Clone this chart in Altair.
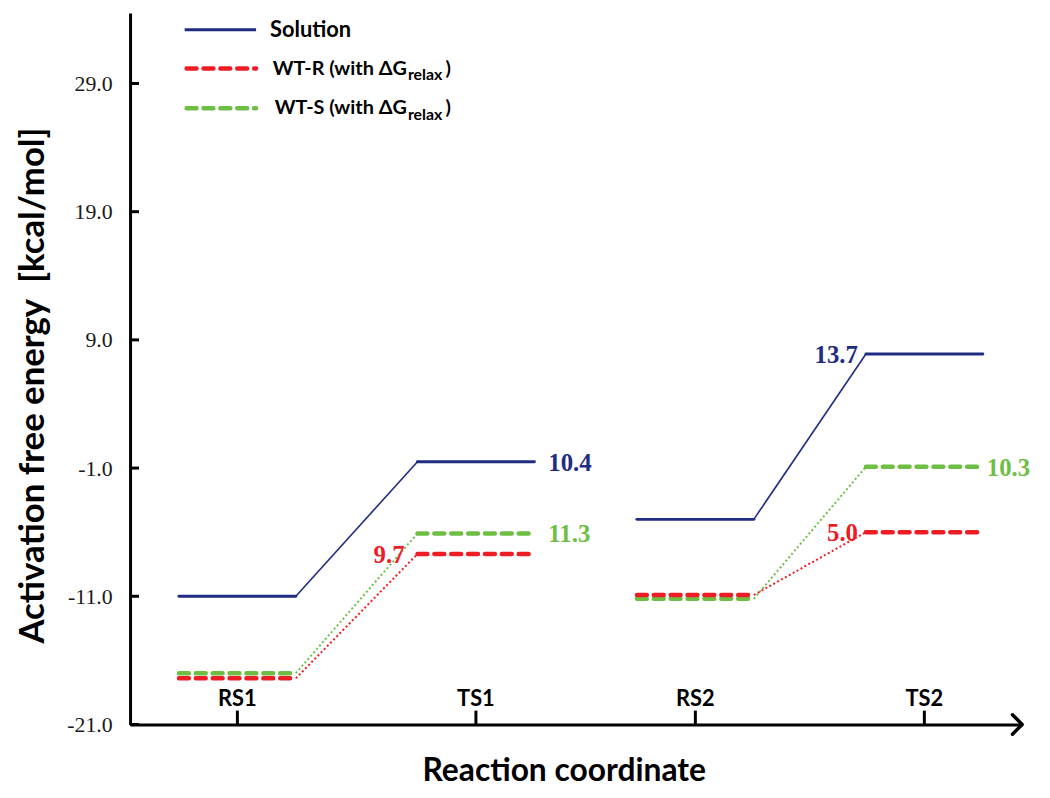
import altair as alt
import pandas as pd

# ---------------- data ----------------
stages = ["RS1", "TS1", "RS2", "TS2"]
stage_pos = [1.0, 2.0, 2.92, 3.88]          # position along the reaction coordinate
solution = [-11.0, -0.5, -5.0, 7.9]
wt_r = [-17.4, -7.7, -10.9, -6.0]
wt_s = [-17.0, -6.1, -11.2, -0.9]

# barrier labels (at TS1, TS2)
solution_barriers = ["10.4", "13.7"]
wt_r_barriers = ["9.7", "5.0"]
wt_s_barriers = ["11.3", "10.3"]
# side of the TS level where each label sits
solution_sides = ["right", "left"]
wt_r_sides = ["left", "left"]
wt_s_sides = ["right", "right"]

y_ticks = [-21, -11, -1, 9, 19, 29]
series_names = ["Solution", "WT-R", "WT-S"]

# ---------------- styling ----------------
BLUE = "#1f2c82"
RED = "#ee1c25"
GREEN = "#6fbe44"
HALF = 0.245
W, H = 899, 717
Y_MIN, Y_MAX = -21, 34.5
X_MIN, X_MAX = 0.55, 4.29
LABEL_DX = {("right", 1): 14, ("right", 3): 4, ("left", 1): -13, ("left", 3): -8}

xscale = alt.Scale(domain=[X_MIN, X_MAX], nice=False, zero=False)
yscale = alt.Scale(domain=[Y_MIN, Y_MAX], nice=False, zero=False)

xaxis = alt.Axis(title="Reaction coordinate", labels=False, ticks=False, grid=False,
                 domainColor="black", domainWidth=3,
                 titleFont="Lato", titleFontSize=32, titleFontWeight="bold",
                 titleColor="black", titleX=437, titleY=56, titleAlign="center",
                 titleBaseline="alphabetic")
yaxis = alt.Axis(title="Activation free energy\u00a0\u00a0[kcal/mol]", values=y_ticks, format=".1f",
                 labelExpr="replace(datum.label, '\u2212', '-')",
                 ticks=False, tickSize=0, grid=False, domainColor="black", domainWidth=3,
                 labelFont="Liberation Serif", labelFontSize=22, labelColor="#1a1a1a",
                 labelPadding=18,
                 titleFont="Lato", titleFontSize=35, titleFontWeight="bold", titleColor="black",
                 titleX=-98, titleY=375, titleAlign="center", titleBaseline="middle",
                 titleAngle=-90)

X = lambda f: alt.X(f, type="quantitative", scale=xscale, axis=xaxis)
Y = lambda f: alt.Y(f, type="quantitative", scale=yscale, axis=yaxis)

series_vals = {"Solution": solution, "WT-R": wt_r, "WT-S": wt_s}

def levels_df(name):
    vals = series_vals[name]
    return pd.DataFrame({"x": [p - HALF for p in stage_pos],
                         "x2": [p + HALF for p in stage_pos],
                         "y": vals, "stage": stages})

def connectors_df(name):
    vals = series_vals[name]
    rows = []
    for i in (0, 2):
        rows.append({"x": stage_pos[i] + HALF, "x2": stage_pos[i + 1] - HALF,
                     "y": vals[i], "y2": vals[i + 1]})
    return pd.DataFrame(rows)

layers = []

# connectors
layers.append(alt.Chart(connectors_df("Solution")).mark_rule(color=BLUE, strokeWidth=1.6).encode(
    x=X("x"), x2="x2", y=Y("y"), y2="y2"))
layers.append(alt.Chart(connectors_df("WT-S")).mark_rule(color=GREEN, strokeWidth=2, strokeDash=[2, 2.5]).encode(
    x=X("x"), x2="x2", y=Y("y"), y2="y2"))
layers.append(alt.Chart(connectors_df("WT-R")).mark_rule(color=RED, strokeWidth=2, strokeDash=[2, 2.5]).encode(
    x=X("x"), x2="x2", y=Y("y"), y2="y2"))

# levels
layers.append(alt.Chart(levels_df("Solution")).mark_rule(color=BLUE, strokeWidth=3, strokeCap="round").encode(
    x=X("x"), x2="x2", y=Y("y")))
layers.append(alt.Chart(levels_df("WT-S")).mark_rule(color=GREEN, strokeWidth=4.5, strokeDash=[10, 7], strokeCap="round").encode(
    x=X("x"), x2="x2", y=Y("y")))
layers.append(alt.Chart(levels_df("WT-R")).mark_rule(color=RED, strokeWidth=4.5, strokeDash=[10, 7], strokeCap="round").encode(
    x=X("x"), x2="x2", y=Y("y")))

# barrier labels
for name, texts, sides, col in (("Solution", solution_barriers, solution_sides, BLUE),
                                ("WT-R", wt_r_barriers, wt_r_sides, RED),
                                ("WT-S", wt_s_barriers, wt_s_sides, GREEN)):
    vals = series_vals[name]
    for k, i in enumerate((1, 3)):
        side = sides[k]
        x = stage_pos[i] + HALF if side == "right" else stage_pos[i] - HALF
        df = pd.DataFrame({"x": [x], "y": [vals[i]], "label": [texts[k]]})
        layers.append(alt.Chart(df).mark_text(
            font="Liberation Serif", fontSize=25, fontWeight="bold", color=col,
            align="left" if side == "right" else "right", baseline="middle",
            dx=LABEL_DX[(side, i)], dy=1).encode(
            x=X("x"), y=Y("y"), text="label:N"))

# x ticks (inward) and stage labels
stage_df = pd.DataFrame({"x": stage_pos, "stage": stages})
layers.append(alt.Chart(stage_df).mark_rule(color="black", strokeWidth=3).encode(
    x=X("x"), y=alt.value(H), y2=alt.value(H - 14)))
layers.append(alt.Chart(stage_df).mark_text(
    font="Lato", fontSize=22, fontWeight="bold", color="black", baseline="alphabetic").encode(
    x=X("x"), y=alt.value(H - 19), text="stage:N"))

# y ticks (inward)
ytick_df = pd.DataFrame({"y": y_ticks})
layers.append(alt.Chart(ytick_df).mark_rule(color="black", strokeWidth=3).encode(
    y=Y("y"), x=alt.value(0), x2=alt.value(9)))

# arrow head at end of x axis
arrow_df = pd.DataFrame({"x": [X_MAX], "y": [Y_MIN]})
layers.append(alt.Chart(arrow_df).mark_point(
    shape="M-1,-1L0,0L-1,1", size=380, filled=False, stroke="black", strokeWidth=3.5,
    strokeCap="round", strokeJoin="round", opacity=1).encode(
    x=X("x"), y=Y("y")))

# ---------------- legend ----------------
leg_y = [17, 56, 96]
layers.append(alt.Chart(pd.DataFrame({"s": [series_names[0]]})).mark_rule(
    color=BLUE, strokeWidth=3).encode(x=alt.value(55), x2=alt.value(127), y=alt.value(leg_y[0])))
layers.append(alt.Chart(pd.DataFrame({"s": [series_names[1]]})).mark_rule(
    color=RED, strokeWidth=4.5, strokeDash=[10, 7], strokeCap="round").encode(
    x=alt.value(57), x2=alt.value(127), y=alt.value(leg_y[1])))
layers.append(alt.Chart(pd.DataFrame({"s": [series_names[2]]})).mark_rule(
    color=GREEN, strokeWidth=4.5, strokeDash=[10, 7], strokeCap="round").encode(
    x=alt.value(57), x2=alt.value(127), y=alt.value(leg_y[2])))

layers.append(alt.Chart(pd.DataFrame({"t": ["Solution"]})).mark_text(
    font="Lato", fontSize=22, fontWeight="bold", color="black", align="left", baseline="middle").encode(
    x=alt.value(141), y=alt.value(leg_y[0]), text="t:N"))
for k, name in ((1, "WT-R"), (2, "WT-S")):
    layers.append(alt.Chart(pd.DataFrame({"t": [name + " (with \u0394G"]})).mark_text(
        font="Lato", fontSize=20, fontWeight="bold", color="black", align="right", baseline="middle").encode(
        x=alt.value(279), y=alt.value(leg_y[k]), text="t:N"))
    layers.append(alt.Chart(pd.DataFrame({"t": ["relax"]})).mark_text(
        font="Lato", fontSize=16, fontWeight="bold", color="black", align="left", baseline="middle").encode(
        x=alt.value(280), y=alt.value(leg_y[k] + 7), text="t:N"))
    layers.append(alt.Chart(pd.DataFrame({"t": [")"]})).mark_text(
        font="Lato", fontSize=20, fontWeight="bold", color="black", align="left", baseline="middle").encode(
        x=alt.value(318), y=alt.value(leg_y[k]), text="t:N"))

chart = alt.layer(*layers).properties(
    width=W, height=H,
    background="white",
    autosize=alt.AutoSizeParams(type="none"),
    padding={"left": 123, "top": 2, "right": 20, "bottom": 63},
).configure_view(stroke=None)

chart.save("out.html", embed_options={"renderer": "svg", "actions": False})
